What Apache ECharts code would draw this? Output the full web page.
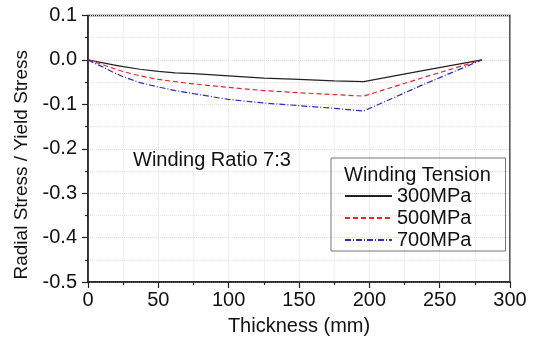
<!DOCTYPE html>
<html>
<head>
<meta charset="utf-8">
<script src="https://cdn.jsdelivr.net/npm/echarts@6/dist/echarts.min.js"></script>
<style>
  html, body { margin: 0; padding: 0; background: #fff; }
  #chart { width: 541px; height: 341px; }
</style>
</head>
<body>
<div id="chart"></div>
<script>
const thickness = [0, 5, 10, 18, 25, 37, 50, 62, 75, 100, 125, 150, 175, 196, 238, 280];
const stress300 = [0, -0.003, -0.006, -0.011, -0.015, -0.021, -0.026, -0.029, -0.031, -0.036, -0.041, -0.044, -0.047, -0.049, -0.024, 0];
const stress500 = [0, -0.005, -0.010, -0.019, -0.026, -0.036, -0.044, -0.049, -0.054, -0.062, -0.069, -0.074, -0.078, -0.0815, -0.040, 0];
const stress700 = [0, -0.008, -0.015, -0.028, -0.038, -0.051, -0.061, -0.069, -0.076, -0.089, -0.097, -0.103, -0.109, -0.115, -0.056, 0];
const seriesNames = ['300MPa', '500MPa', '700MPa'];

const font = '"Liberation Sans", Arial, sans-serif';
const ink = '#111';

const chart = echarts.init(document.getElementById('chart'));

const pairs = (ys) => thickness.map((x, i) => [x, ys[i]]);

chart.setOption({
  animation: false,
  grid: {
    left: 88,
    right: 31,
    top: 15.5,
    bottom: 57,
    show: true,
    borderColor: '#222',
    borderWidth: 1.5,
  },
  title: [
    {
      text: 'Winding Ratio 7:3',
      left: 133,
      top: 150,
      textStyle: { fontFamily: font, fontSize: 20, fontWeight: 'normal', color: ink },
      padding: 0,
    },
    {
      text: 'Winding Tension',
      left: 344,
      top: 165,
      textStyle: { fontFamily: font, fontSize: 20, fontWeight: 'normal', color: ink },
      padding: 0,
    },
  ],
  legend: {
    orient: 'vertical',
    left: 331,
    top: 158,
    data: seriesNames,
    borderColor: '#777',
    borderWidth: 1,
    padding: [28, 34, 1, 13],
    itemWidth: 47,
    itemHeight: 14,
    itemGap: 2,
    itemStyle: { color: 'transparent', borderWidth: 0 },
    textStyle: { fontFamily: font, fontSize: 20, color: ink, lineHeight: 20 },
  },
  xAxis: {
    type: 'value',
    min: 0,
    max: 300,
    interval: 50,
    name: 'Thickness (mm)',
    nameLocation: 'middle',
    nameGap: 34,
    nameTextStyle: { fontFamily: font, fontSize: 20, color: ink },
    axisLine: { onZero: false, lineStyle: { color: '#222', width: 1.5 } },
    axisTick: { length: 6, lineStyle: { color: '#222', width: 1.2 } },
    minorTick: { show: true, splitNumber: 2, length: 3, lineStyle: { color: '#222', width: 1.2 } },
    axisLabel: { fontFamily: font, fontSize: 20, color: ink, margin: 8 },
    splitLine: { show: true, lineStyle: { color: '#ddd', type: 'dotted', width: 1 } },
    minorSplitLine: { show: true, lineStyle: { color: '#e4e4e4', type: 'dotted', width: 1 } },
  },
  yAxis: {
    type: 'value',
    min: -0.5,
    max: 0.1,
    interval: 0.1,
    name: 'Radial Stress / Yield Stress',
    nameLocation: 'middle',
    nameGap: 57,
    nameTextStyle: { fontFamily: font, fontSize: 19, color: ink, padding: [0, 32, 0, 0] },
    axisLine: { show: true, onZero: false, lineStyle: { color: '#222', width: 1.5 } },
    axisTick: { show: true, length: 6, lineStyle: { color: '#222', width: 1.2 } },
    minorTick: { show: true, splitNumber: 2, length: 3, lineStyle: { color: '#222', width: 1.2 } },
    axisLabel: {
      fontFamily: font,
      fontSize: 20,
      color: ink,
      margin: 11,
      formatter: (v) => v.toFixed(1),
    },
    splitLine: { show: true, lineStyle: { color: '#ddd', type: 'dotted', width: 1 } },
    minorSplitLine: { show: true, lineStyle: { color: '#e4e4e4', type: 'dotted', width: 1 } },
  },
  series: [
    {
      name: seriesNames[0],
      type: 'line',
      data: pairs(stress300),
      symbol: 'none',
      lineStyle: { color: '#222', width: 1.2, type: 'solid' },
      itemStyle: { color: '#222' },
    },
    {
      name: seriesNames[1],
      type: 'line',
      data: pairs(stress500),
      symbol: 'none',
      lineStyle: { color: '#e02a2a', width: 1.2, type: [5, 3] },
      itemStyle: { color: '#e02a2a' },
    },
    {
      name: seriesNames[2],
      type: 'line',
      data: pairs(stress700),
      symbol: 'none',
      lineStyle: { color: '#2a2ac8', width: 1.2, type: [6, 2, 1, 2] },
      itemStyle: { color: '#2a2ac8' },
    },
  ],
});
</script>
</body>
</html>
